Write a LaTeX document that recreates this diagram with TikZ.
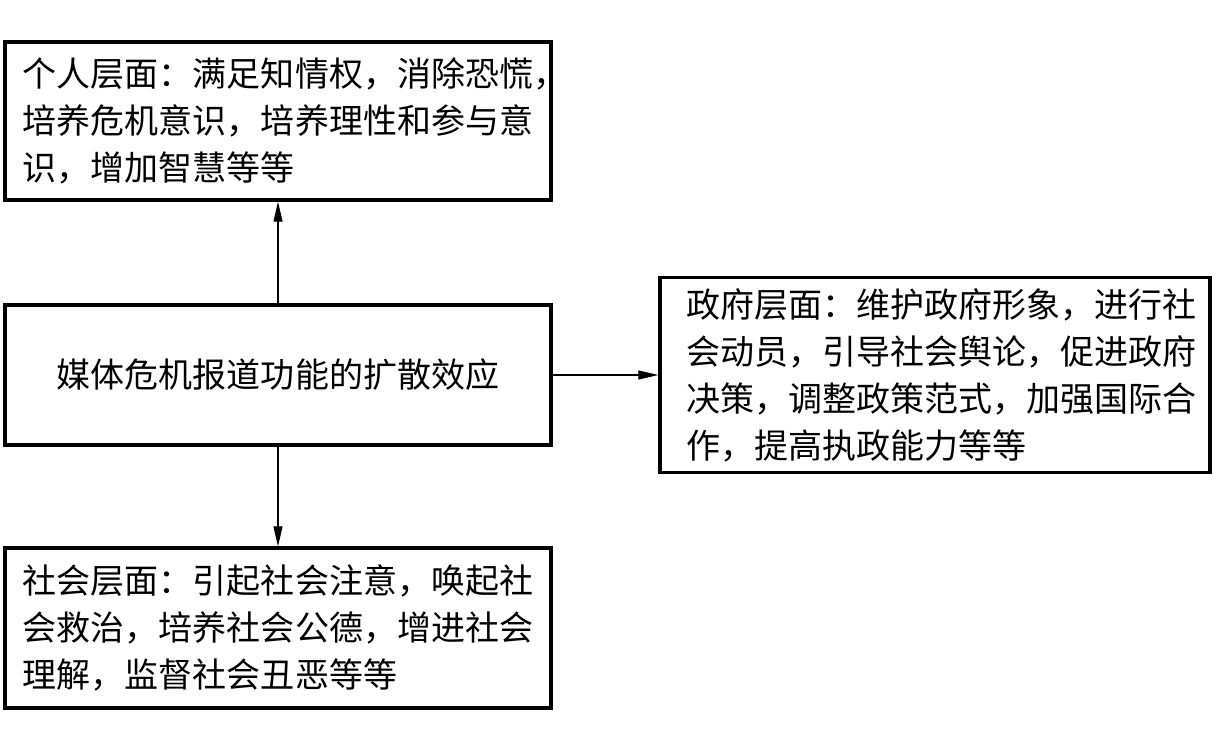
\documentclass[tikz,border=0pt]{standalone}
\usepackage{fontspec}
\setmainfont{Noto Sans CJK SC}
\usetikzlibrary{arrows.meta}
\tikzset{
  >={Triangle[length=20pt,width=9pt]},
  box/.style={draw,line width=3.4pt,inner xsep=18pt,inner ysep=0pt,text width=510pt,align=left,font=\fontsize{34}{47}\selectfont},
  mbox/.style={box,align=center,minimum height=140pt},
  arr/.style={->,line width=1.1pt},
}

\begin{document}
\begin{tikzpicture}[x=1pt,y=-1pt]
\useasboundingbox (0,0) rectangle (1218,748);
\node[mbox] (mid) at (278,375) {媒体危机报道功能的扩散效应};
\node[box,minimum height=158pt] (top) at (278,121) {个人层面：满足知情权，消除恐慌，\\培养危机意识，培养理性和参与意\\识，增加智慧等等};
\node[box,minimum height=160pt] (bot) at (278,628) {社会层面：引起社会注意，唤起社\\会救治，培养社会公德，增进社会\\理解，监督社会丑恶等等};
\node[box,text width=498pt,inner xsep=26pt,minimum height=195pt] (gov) at (935,375) {政府层面：维护政府形象，进行社\\会动员，引导社会舆论，促进政府\\决策，调整政策范式，加强国际合\\作，提高执政能力等等};
\draw[arr] (mid.north) -- (top.south);
\draw[arr] (mid.south) -- (bot.north);
\draw[arr] (mid.east) -- (mid.east -| gov.west);
\end{tikzpicture}
\end{document}
